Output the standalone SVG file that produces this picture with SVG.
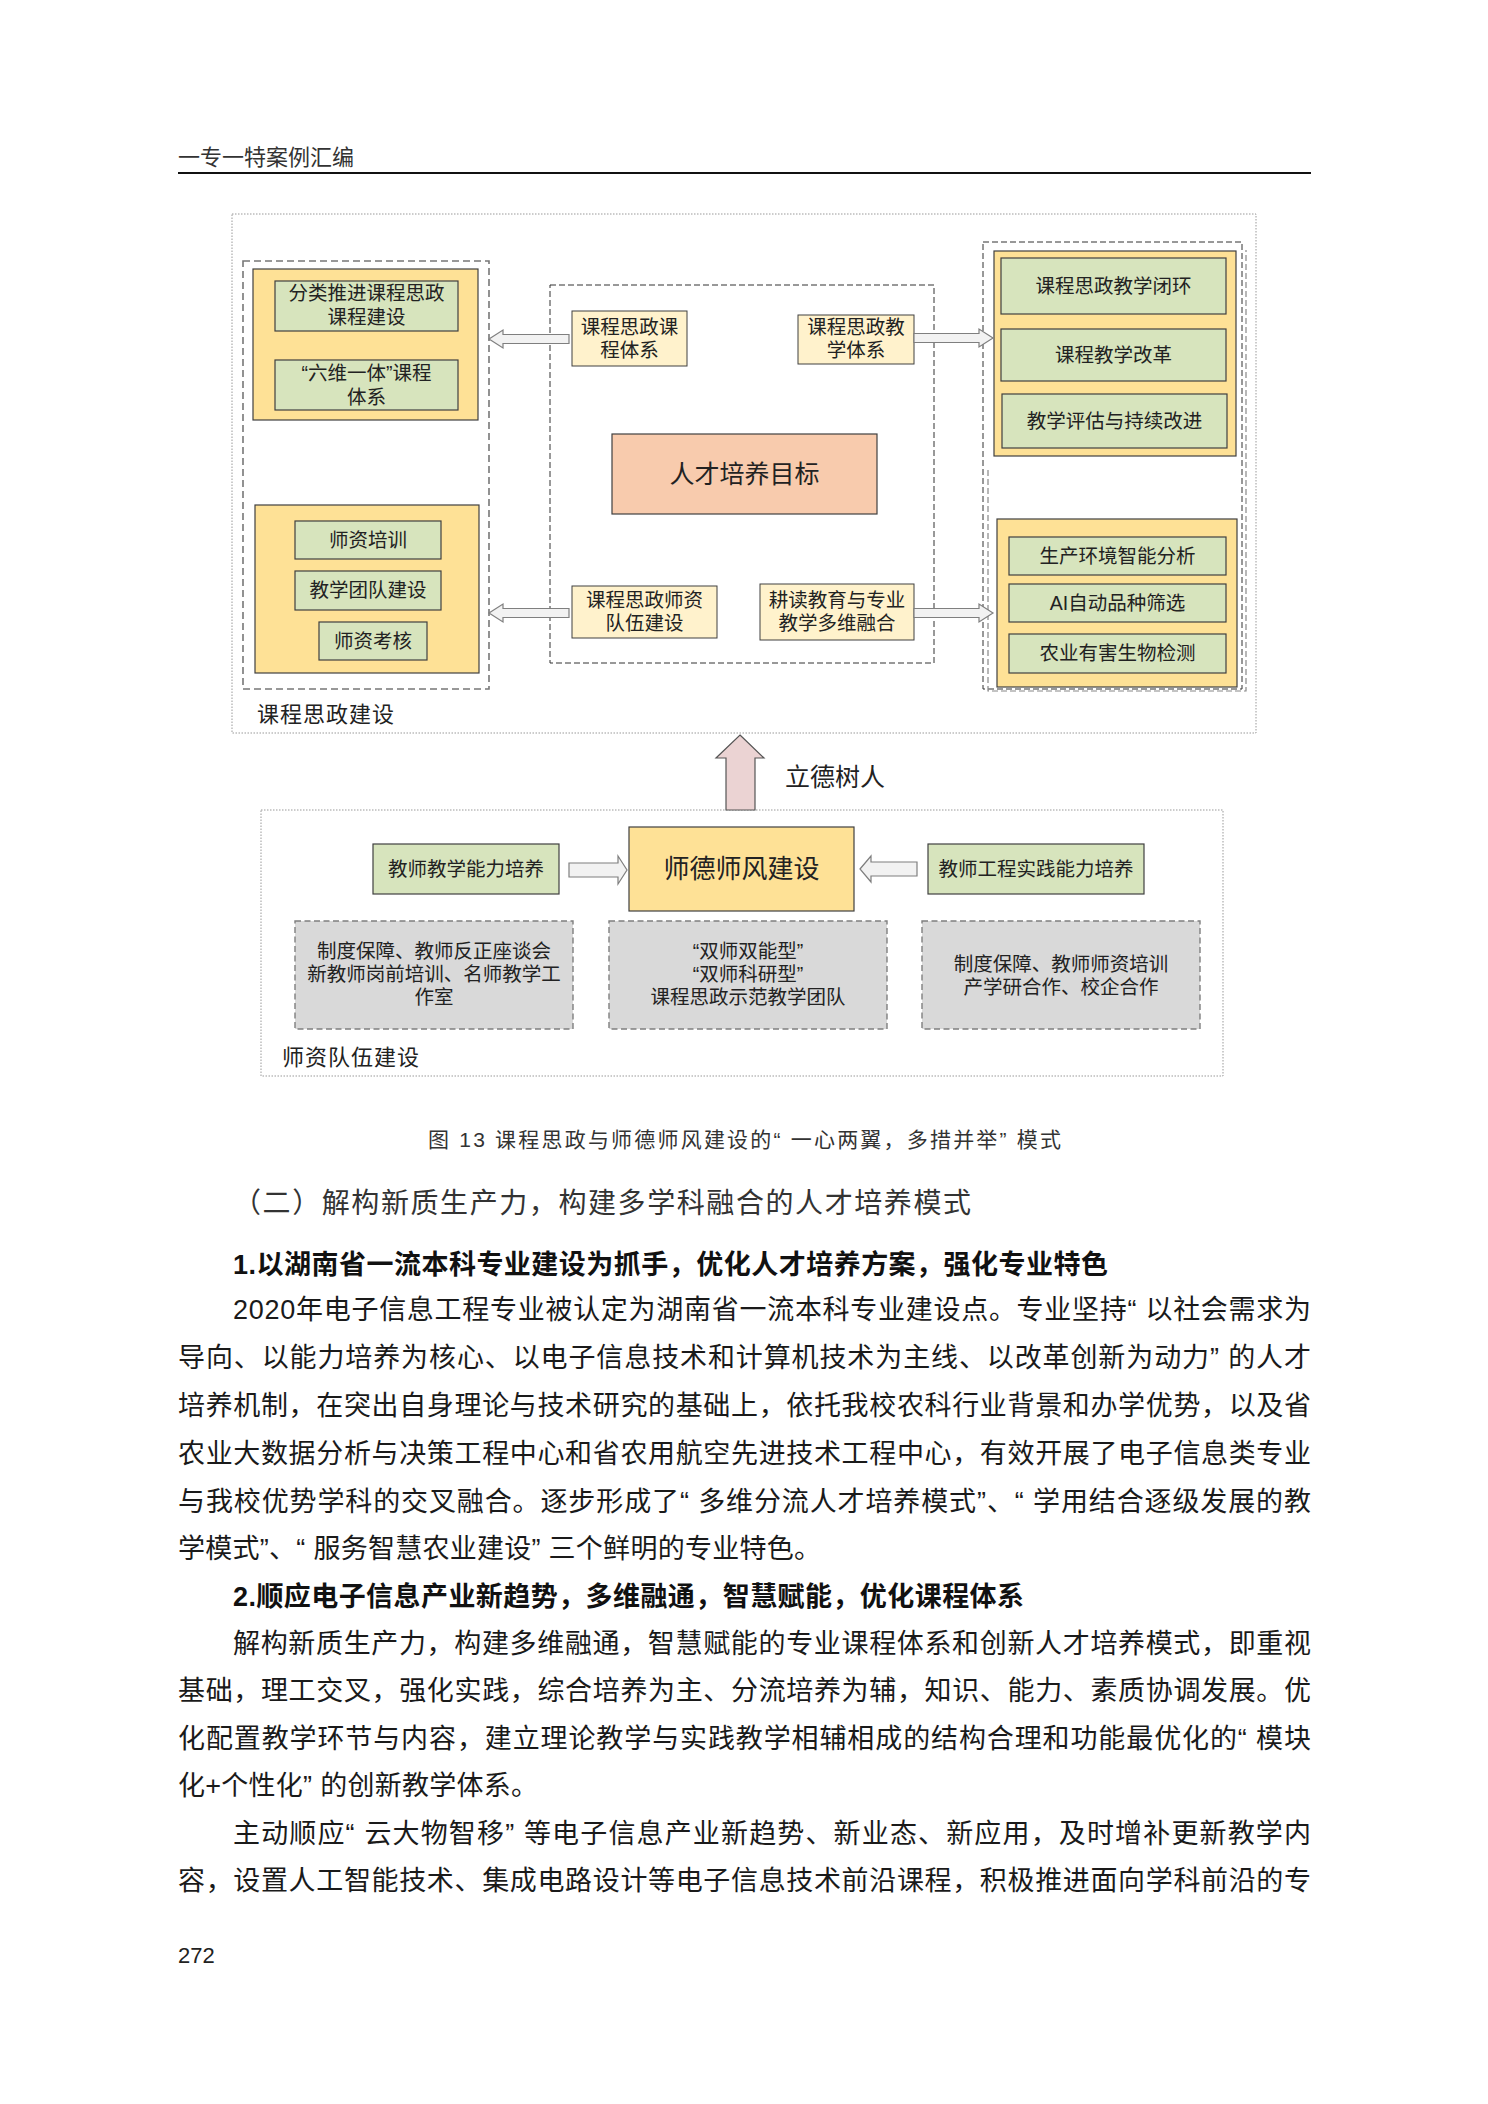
<svg xmlns="http://www.w3.org/2000/svg" width="1488" height="2104" viewBox="0 0 1488 2104">
<style>
text{font-family:"Liberation Sans","Noto Sans CJK SC",sans-serif;fill:#222}
.bt{font-size:19.5px;text-anchor:middle}
.outer{fill:none;stroke:#999;stroke-width:1;stroke-dasharray:1.5 1.5}
.grp{fill:none;stroke:#777;stroke-width:1.6;stroke-dasharray:7 4}
.mid{fill:none;stroke:#333;stroke-width:1;stroke-dasharray:6 3}
.yel{fill:#FEE196;stroke:#404040;stroke-width:1.2}
.grn{fill:#D7E4BD;stroke:#404040;stroke-width:1.2}
.lyel{fill:#FFF2CC;stroke:#404040;stroke-width:1}
.gray{fill:#D9D9D9;stroke:#7F7F7F;stroke-width:1.4;stroke-dasharray:6 3.5}
.arr{fill:#F2F2F2;stroke:#7F7F7F;stroke-width:1.2}
.body{font-size:27px;fill:#1a1a1a}
.hb{font-size:27px;font-weight:bold;fill:#111}
</style>

<g id="page-header">
<text x="178" y="165" style="font-size:22px;fill:#333">一专一特案例汇编</text>
<line x1="178" y1="173" x2="1311" y2="173" stroke="#111" stroke-width="2"/>
</g>

<!-- upper figure frame -->
<g id="frame-top">
<rect class="outer" x="232" y="214" width="1024" height="519"/>
<text x="257" y="722" style="font-size:22px;letter-spacing:1px">课程思政建设</text>
</g>

<g id="group-left">
<rect class="grp" x="243" y="261" width="246" height="428"/>
<g id="left-top">
<rect class="yel" x="253" y="269" width="225" height="151"/>
<g id="n-fenlei"><rect class="grn" x="275" y="281" width="183" height="50"/>
<text class="bt" x="366.5" y="300">分类推进课程思政<tspan x="366.5" y="324">课程建设</tspan></text></g>
<g id="n-liuwei"><rect class="grn" x="275" y="360" width="183" height="50"/>
<text class="bt" x="366.5" y="380">“六维一体”课程<tspan x="366.5" y="404">体系</tspan></text></g>
</g>
<g id="left-bottom">
<rect class="yel" x="255" y="505" width="224" height="168"/>
<g id="n-peixun"><rect class="grn" x="295" y="521" width="146" height="38"/><text class="bt" x="368" y="547">师资培训</text></g>
<g id="n-tuandui"><rect class="grn" x="295" y="571" width="146" height="39"/><text class="bt" x="368" y="597">教学团队建设</text></g>
<g id="n-kaohe"><rect class="grn" x="319" y="622" width="108" height="38"/><text class="bt" x="373" y="648">师资考核</text></g>
</g>
</g>

<g id="group-mid">
<rect class="mid" x="550" y="285" width="384" height="378"/>
<g id="n-kctx"><rect class="lyel" x="572" y="311" width="115" height="55"/>
<text class="bt" x="629.5" y="334">课程思政课<tspan x="629.5" y="357">程体系</tspan></text></g>
<g id="n-jxtx"><rect class="lyel" x="798" y="315" width="116" height="49"/>
<text class="bt" x="856" y="334">课程思政教<tspan x="856" y="357">学体系</tspan></text></g>
<g id="n-goal"><rect x="612" y="434" width="265" height="80" fill="#F8CBAD" stroke="#404040" stroke-width="1.2"/>
<text x="744.5" y="483" style="font-size:25px;text-anchor:middle">人才培养目标</text></g>
<g id="n-szdw"><rect class="lyel" x="572" y="586" width="145" height="52"/>
<text class="bt" x="644.5" y="607">课程思政师资<tspan x="644.5" y="630">队伍建设</tspan></text></g>
<g id="n-gendu"><rect class="lyel" x="760" y="584" width="154" height="56"/>
<text class="bt" x="837" y="607">耕读教育与专业<tspan x="837" y="630">教学多维融合</tspan></text></g>
</g>

<g id="group-right">
<rect class="mid" x="983" y="242" width="259" height="447"/>
<path d="M988,470 V691 H1246 V250" fill="none" stroke="#888" stroke-width="1.2" stroke-dasharray="6 3"/>
<g id="right-top">
<rect class="yel" x="994" y="251" width="242" height="205"/>
<g id="n-bihuan"><rect class="grn" x="1001" y="258" width="225" height="56"/><text class="bt" x="1113.5" y="293">课程思政教学闭环</text></g>
<g id="n-gaige"><rect class="grn" x="1001" y="329" width="225" height="52"/><text class="bt" x="1113.5" y="362">课程教学改革</text></g>
<g id="n-pinggu"><rect class="grn" x="1002" y="394" width="225" height="54"/><text class="bt" x="1114.5" y="428">教学评估与持续改进</text></g>
</g>
<g id="right-bottom">
<rect class="yel" x="997" y="519" width="240" height="168"/>
<g id="n-huanjing"><rect class="grn" x="1009" y="537" width="217" height="38"/><text class="bt" x="1117.5" y="563">生产环境智能分析</text></g>
<g id="n-ai"><rect class="grn" x="1009" y="584" width="217" height="38"/><text class="bt" x="1117.5" y="610">AI自动品种筛选</text></g>
<g id="n-youhai"><rect class="grn" x="1009" y="634" width="217" height="39"/><text class="bt" x="1117.5" y="660">农业有害生物检测</text></g>
</g>
</g>

<!-- lower figure frame -->
<g id="frame-bottom">
<rect class="outer" x="261" y="810" width="962" height="266"/>
<text x="282" y="1065" style="font-size:22px;letter-spacing:1px">师资队伍建设</text>
</g>
<g id="n-ldsr"><text x="785" y="786" style="font-size:25px">立德树人</text></g>
<g id="n-jxnl"><rect class="grn" x="373" y="844" width="186" height="50"/><text class="bt" x="466" y="876">教师教学能力培养</text></g>
<g id="n-shide"><rect x="629" y="827" width="225" height="84" fill="#FEE196" stroke="#404040" stroke-width="1.2"/>
<text x="741.5" y="878" style="font-size:26px;text-anchor:middle">师德师风建设</text></g>
<g id="n-gcsj"><rect class="grn" x="928" y="844" width="216" height="50"/><text class="bt" x="1036" y="876">教师工程实践能力培养</text></g>
<g id="n-g1"><rect class="gray" x="295" y="921" width="278" height="108"/>
<text class="bt" x="434" y="958">制度保障、教师反正座谈会<tspan x="434" y="981">新教师岗前培训、名师教学工</tspan><tspan x="434" y="1004">作室</tspan></text></g>
<g id="n-g2"><rect class="gray" x="609" y="921" width="278" height="108"/>
<text class="bt" x="748" y="958">“双师双能型”<tspan x="748" y="981">“双师科研型”</tspan><tspan x="748" y="1004">课程思政示范教学团队</tspan></text></g>
<g id="n-g3"><rect class="gray" x="922" y="921" width="278" height="108"/>
<text class="bt" x="1061" y="971">制度保障、教师师资培训<tspan x="1061" y="994">产学研合作、校企合作</tspan></text></g>

<g id="connectors">
<path class="arr" d="M489,339 L503,330 L503,334.5 L569,334.5 L569,343.5 L503,343.5 L503,348 Z"/>
<path class="arr" d="M489,613 L503,604 L503,608.5 L569,608.5 L569,617.5 L503,617.5 L503,622 Z"/>
<path class="arr" d="M914,333.5 L979,333.5 L979,329 L993,338 L979,347 L979,342.5 L914,342.5 Z"/>
<path class="arr" d="M914,608.5 L979,608.5 L979,604 L993,613 L979,622 L979,617.5 L914,617.5 Z"/>
<path class="arr" d="M569,863 L618,863 L618,856 L627,870 L618,884 L618,877 L569,877 Z"/>
<path class="arr" d="M860,869 L871,856 L871,862 L917,862 L917,876 L871,876 L871,882 Z"/>
<path d="M740,735 L764,758 L755,758 L755,810 L726,810 L726,758 L716,758 Z" fill="#EBD3D3" stroke="#555" stroke-width="1.2"/>
</g>

<g id="caption">
<text x="428" y="1147" textLength="633" lengthAdjust="spacing" style="font-size:21px;fill:#333">图 13   课程思政与师德师风建设的“ 一心两翼，多措并举” 模式</text>
</g>

<g id="body-text">
<text x="233" y="1213" textLength="738" lengthAdjust="spacing" style="font-size:28px;fill:#333">（二）解构新质生产力，构建多学科融合的人才培养模式</text>
<text class="hb" x="233" y="1274" textLength="875" lengthAdjust="spacing">1.以湖南省一流本科专业建设为抓手，优化人才培养方案，强化专业特色</text>
<text class="body" x="233" y="1319" textLength="1078" lengthAdjust="spacing">2020年电子信息工程专业被认定为湖南省一流本科专业建设点。专业坚持“ 以社会需求为</text>
<text class="body" x="178" y="1367" textLength="1133" lengthAdjust="spacing">导向、以能力培养为核心、以电子信息技术和计算机技术为主线、以改革创新为动力” 的人才</text>
<text class="body" x="178" y="1415" textLength="1133" lengthAdjust="spacing">培养机制，在突出自身理论与技术研究的基础上，依托我校农科行业背景和办学优势，以及省</text>
<text class="body" x="178" y="1463" textLength="1133" lengthAdjust="spacing">农业大数据分析与决策工程中心和省农用航空先进技术工程中心，有效开展了电子信息类专业</text>
<text class="body" x="178" y="1511" textLength="1133" lengthAdjust="spacing">与我校优势学科的交叉融合。逐步形成了“ 多维分流人才培养模式”、“ 学用结合逐级发展的教</text>
<text class="body" x="178" y="1558" textLength="643" lengthAdjust="spacing">学模式”、“ 服务智慧农业建设” 三个鲜明的专业特色。</text>
<text class="hb" x="233" y="1606" textLength="791" lengthAdjust="spacing">2.顺应电子信息产业新趋势，多维融通，智慧赋能，优化课程体系</text>
<text class="body" x="233" y="1653" textLength="1078" lengthAdjust="spacing">解构新质生产力，构建多维融通，智慧赋能的专业课程体系和创新人才培养模式，即重视</text>
<text class="body" x="178" y="1700" textLength="1133" lengthAdjust="spacing">基础，理工交叉，强化实践，综合培养为主、分流培养为辅，知识、能力、素质协调发展。优</text>
<text class="body" x="178" y="1748" textLength="1133" lengthAdjust="spacing">化配置教学环节与内容，建立理论教学与实践教学相辅相成的结构合理和功能最优化的“ 模块</text>
<text class="body" x="178" y="1795" textLength="360" lengthAdjust="spacing">化+个性化” 的创新教学体系。</text>
<text class="body" x="233" y="1843" textLength="1078" lengthAdjust="spacing">主动顺应“ 云大物智移” 等电子信息产业新趋势、新业态、新应用，及时增补更新教学内</text>
<text class="body" x="178" y="1890" textLength="1133" lengthAdjust="spacing">容，设置人工智能技术、集成电路设计等电子信息技术前沿课程，积极推进面向学科前沿的专</text>
</g>

<g id="page-number">
<text x="178" y="1963" style="font-size:22px;fill:#222">272</text>
</g>
</svg>
